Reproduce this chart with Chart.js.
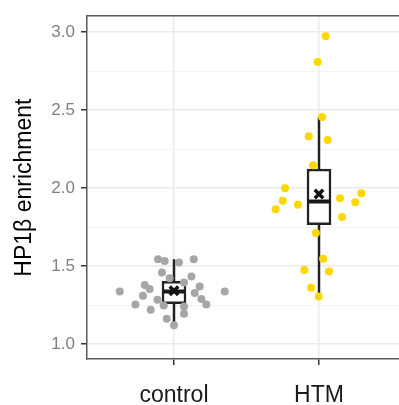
<!DOCTYPE html>
<html><head><meta charset="utf-8">
<script src="https://cdn.jsdelivr.net/npm/chart.js@4/dist/chart.umd.min.js"></script>
<style>html,body{margin:0;padding:0;background:#fff;overflow:hidden;width:399px;height:405px}
canvas{position:absolute;left:0;top:0}</style></head>
<body><canvas id="c" width="420" height="405"></canvas>
<script>
const categories = ['control', 'HTM'];
const yTickValues = [1.0, 1.5, 2.0, 2.5, 3.0];
const yMinorValues = [1.25, 1.75, 2.25, 2.75];

const controlValues = [1.544, 1.533, 1.523, 1.544, 1.459, 1.423, 1.434, 1.379, 1.354, 1.370, 1.338, 1.338, 1.311,
  1.328, 1.290, 1.284, 1.254, 1.254, 1.248, 1.220, 1.241, 1.195, 1.163, 1.121, 1.396];
const controlJitter = [-0.110, -0.064, 0.034, 0.136, -0.083, -0.030, 0.120, -0.202, -0.168, 0.177, -0.374, 0.350, -0.214,
  0.143, 0.189, -0.114, -0.266, 0.223, -0.071, -0.161, 0.069, 0.069, -0.050, 0.000, 0.069];

const htmValues = [2.973, 2.808, 2.456, 2.333, 2.308, 2.147, 1.999, 1.919, 1.865, 1.893, 1.935, 1.967, 1.910,
  1.815, 1.713, 1.548, 1.476, 1.465, 1.362, 1.305];
const htmJitter = [0.046, -0.009, 0.021, -0.071, 0.060, -0.041, -0.234, -0.250, -0.299, -0.145, 0.145, 0.292, 0.250,
  0.159, -0.021, 0.028, -0.101, 0.069, -0.055, -0.002];

const boxLower = [1.260, 1.766];
const boxUpper = [1.402, 2.122];
const medians = [1.338, 1.914];
const means = [1.343, 1.963];
const whiskerLower = [1.121, 1.305];
const whiskerUpper = [1.544, 2.456];

const FONT = 'Liberation Sans, Arial, sans-serif';
const BOX_W = 24;              // px
const UNIT_PX = 145;           // px per category unit (for median segment)
const half = (BOX_W / 2 - 1) / UNIT_PX;

const pts = (vals, jit, c) => vals.map((v, i) => ({ x: c + jit[i], y: v }));

const whiskerData = [];
categories.forEach((c, i) => {
  whiskerData.push({ x: i + 1, y: boxUpper[i] }, { x: i + 1, y: whiskerUpper[i] }, { x: i + 1, y: null });
  whiskerData.push({ x: i + 1, y: boxLower[i] }, { x: i + 1, y: whiskerLower[i] }, { x: i + 1, y: null });
});
const medianData = [];
categories.forEach((c, i) => {
  medianData.push({ x: i + 1 - half, y: medians[i] }, { x: i + 1 + half, y: medians[i] }, { x: i + 1.5, y: null });
});

const isMajor = v => yTickValues.some(t => Math.abs(t - v) < 1e-9);

new Chart(document.getElementById('c'), {
  type: 'scatter',
  data: {
    datasets: [
      { type: 'line', data: whiskerData, borderColor: '#222222', borderWidth: 2.5, pointRadius: 0, spanGaps: false, order: 5 },
      { type: 'bar', data: categories.map((c, i) => ({ x: i + 1, y: [boxLower[i], boxUpper[i]] })),
        backgroundColor: '#ffffff', borderColor: '#222222', borderWidth: 2.5, borderSkipped: false,
        barThickness: BOX_W, order: 4 },
      { type: 'line', data: medianData, borderColor: '#1a1a1a', borderWidth: 4, pointRadius: 0, spanGaps: false, order: 3 },
      { data: pts(controlValues, controlJitter, 1), backgroundColor: '#a6a6a6', pointRadius: 4, borderWidth: 0, order: 2 },
      { data: pts(htmValues, htmJitter, 2), backgroundColor: '#ffd700', pointRadius: 4, borderWidth: 0, order: 2 },
      { data: categories.map((c, i) => ({ x: i + 1, y: means[i] })), pointStyle: 'crossRot', pointRadius: 6,
        borderColor: '#111111', borderWidth: 3.5, backgroundColor: '#111111', order: 0 }
    ]
  },
  options: {
    responsive: false, animation: false, devicePixelRatio: 1,
    layout: { padding: { left: 0, top: 13, right: 14, bottom: 0 } },
    plugins: { legend: { display: false }, tooltip: { enabled: false } },
    scales: {
      x: {
        type: 'linear', min: 0.4, max: 2.6, offset: false,
        afterBuildTicks: s => { s.ticks = categories.map((c, i) => ({ value: i + 1 })); },
        ticks: { callback: (v, i) => categories[i], font: { family: FONT, size: 23 }, color: '#1a1a1a',
                 padding: 17, autoSkip: false, maxRotation: 0 },
        grid: { color: '#ebebeb', lineWidth: 1.5, tickColor: '#333333', tickLength: 6, offset: false },
        border: { display: true, color: '#595959', width: 1.5 },
        afterFit: s => { s.height = 46; }
      },
      xTop: {
        type: 'linear', position: 'top', min: 0.4, max: 2.6, display: true,
        ticks: { display: false }, grid: { display: false, drawTicks: false },
        border: { display: true, color: '#595959', width: 1.5 },
        afterFit: s => { s.height = 0; }
      },
      y: {
        type: 'linear', min: 0.905, max: 3.102,
        afterBuildTicks: s => {
          s.ticks = [...yTickValues, ...yMinorValues].sort((a, b) => a - b).map(v => ({ value: v }));
        },
        ticks: { callback: v => isMajor(v) ? v.toFixed(1) : '', font: { family: FONT, size: 17 }, color: '#808080',
                 padding: 6, autoSkip: false },
        grid: {
          color: ctx => isMajor(ctx.tick.value) ? '#ebebeb' : '#f3f3f3',
          lineWidth: ctx => isMajor(ctx.tick.value) ? 1.5 : 1,
          tickColor: ctx => isMajor(ctx.tick.value) ? '#333333' : 'rgba(0,0,0,0)',
          tickLength: 6
        },
        border: { display: true, color: '#595959', width: 1.5 },
        title: { display: true, text: 'HP1β enrichment', font: { family: FONT, size: 23 }, color: '#000000',
                 padding: { top: 11, bottom: 0 } },
        afterFit: s => { s.width = 87; }
      }
    }
  }
});
</script>
</body></html>
